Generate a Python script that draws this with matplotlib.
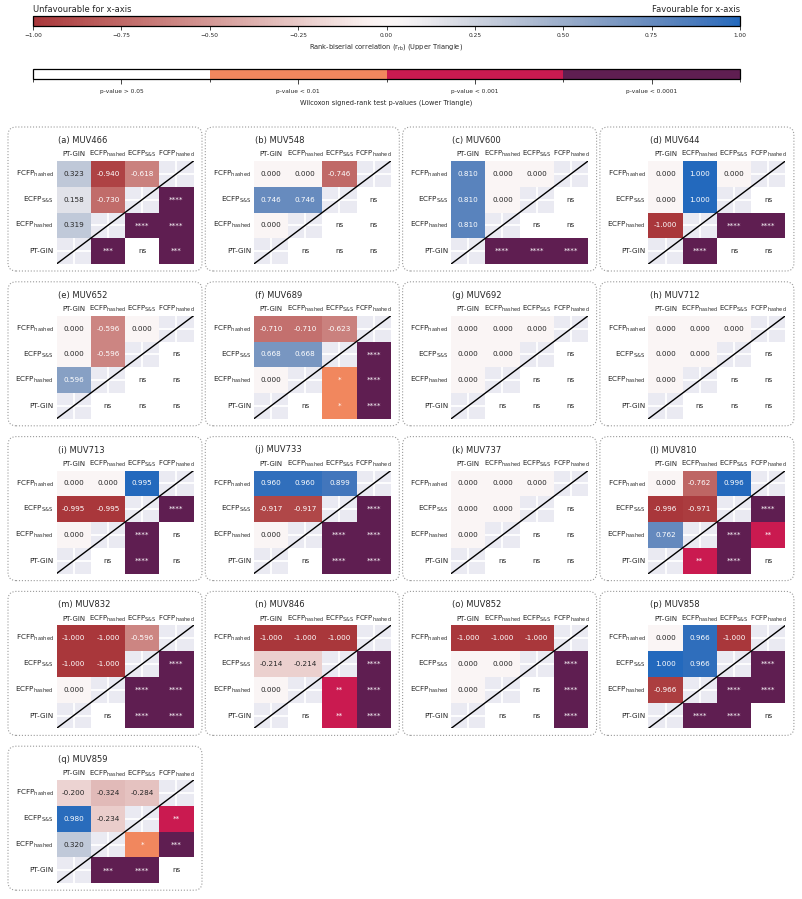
import numpy as np
import matplotlib
matplotlib.use('Agg')
import matplotlib.pyplot as plt
import seaborn as sns
from matplotlib.colors import ListedColormap, BoundaryNorm, Normalize
from matplotlib.cm import ScalarMappable
from matplotlib.patches import FancyBboxPatch

sns.set_style('darkgrid')
plt.rcParams['mathtext.default'] = 'regular'

# models on rows (top to bottom) and columns (left to right)
row_labels = [r'FCFP$_{hashed}$', r'ECFP$_{S&S}$', r'ECFP$_{hashed}$', 'PT-GIN']
col_labels = ['PT-GIN', r'ECFP$_{hashed}$', r'ECFP$_{S&S}$', r'FCFP$_{hashed}$']

targets = ['MUV466', 'MUV548', 'MUV600', 'MUV644', 'MUV652', 'MUV689', 'MUV692', 'MUV712',
           'MUV713', 'MUV733', 'MUV737', 'MUV810', 'MUV832', 'MUV846', 'MUV852', 'MUV858',
           'MUV859']

# upper triangle cells: (0,0) (0,1) (0,2) (1,0) (1,1) (2,0)
rrb = [
    [0.323, -0.940, -0.618, 0.158, -0.730, 0.319],
    [0.000, 0.000, -0.746, 0.746, 0.746, 0.000],
    [0.810, 0.000, 0.000, 0.810, 0.000, 0.810],
    [0.000, 1.000, 0.000, 0.000, 1.000, -1.000],
    [0.000, -0.596, 0.000, 0.000, -0.596, 0.596],
    [-0.710, -0.710, -0.623, 0.668, 0.668, 0.000],
    [0.000, 0.000, 0.000, 0.000, 0.000, 0.000],
    [0.000, 0.000, 0.000, 0.000, 0.000, 0.000],
    [0.000, 0.000, 0.995, -0.995, -0.995, 0.000],
    [0.960, 0.960, 0.899, -0.917, -0.917, 0.000],
    [0.000, 0.000, 0.000, 0.000, 0.000, 0.000],
    [0.000, -0.762, 0.996, -0.996, -0.971, 0.762],
    [-1.000, -1.000, -0.596, -1.000, -1.000, 0.000],
    [-1.000, -1.000, -1.000, -0.214, -0.214, 0.000],
    [-1.000, -1.000, -1.000, 0.000, 0.000, 0.000],
    [0.000, 0.966, -1.000, 1.000, 0.966, -0.966],
    [-0.200, -0.324, -0.284, 0.980, -0.234, 0.320],
]

# lower triangle cells: (1,3) (2,2) (2,3) (3,1) (3,2) (3,3)
pstars = [
    ['****', '****', '****', '***', 'ns', '***'],
    ['ns', 'ns', 'ns', 'ns', 'ns', 'ns'],
    ['ns', 'ns', 'ns', '****', '****', '****'],
    ['ns', '****', '****', '****', 'ns', 'ns'],
    ['ns', 'ns', 'ns', 'ns', 'ns', 'ns'],
    ['****', '*', '****', 'ns', '*', '****'],
    ['ns', 'ns', 'ns', 'ns', 'ns', 'ns'],
    ['ns', 'ns', 'ns', 'ns', 'ns', 'ns'],
    ['****', '****', 'ns', 'ns', '****', 'ns'],
    ['****', '****', '****', 'ns', '****', '****'],
    ['ns', 'ns', 'ns', 'ns', 'ns', 'ns'],
    ['****', '****', '**', '**', '****', 'ns'],
    ['****', '****', '****', 'ns', '****', '****'],
    ['****', '**', '****', 'ns', '**', '****'],
    ['****', 'ns', '****', 'ns', 'ns', '****'],
    ['****', '****', '****', '****', '****', 'ns'],
    ['**', '*', '***', '***', '****', 'ns'],
]

p_labels = ['p-value > 0.05', 'p-value < 0.01', 'p-value < 0.001', 'p-value < 0.0001']
p_colors = ['#FFFFFF', '#F1875E', '#CA1A50', '#5F1E51']
star_level = {'ns': 0, '*': 1, '**': 2, '***': 3, '****': 3}

upper_cells = [(0, 0), (0, 1), (0, 2), (1, 0), (1, 1), (2, 0)]
lower_cells = [(1, 3), (2, 2), (2, 3), (3, 1), (3, 2), (3, 3)]

W, H = 802, 899
fig = plt.figure(figsize=(W / 100, H / 100), dpi=100)
pcmap = ListedColormap(p_colors)
txt = '#262626'


def fr(x, y, w, h):
    # pixel box (top-left origin) -> figure fraction
    return [x / W, 1 - (y + h) / H, w / W, h / H]


# colour bars
cax1 = fig.add_axes(fr(33, 16, 707, 10))
cb1 = fig.colorbar(ScalarMappable(Normalize(-1, 1), cmap='vlag_r'), cax=cax1, orientation='horizontal')
ticks1 = np.linspace(-1, 1, 9)
cb1.set_ticks(ticks1)
cb1.set_ticklabels([f'{t:.2f}'.replace('-', '\u2212') for t in ticks1])
cb1.ax.tick_params(labelsize=4.2, length=3, width=0.6, pad=2, colors=txt)
cb1.set_label(r'Rank-biserial correlation (r$_{rb}$) (Upper Triangle)', fontsize=4.8, labelpad=3, color=txt)
cb1.outline.set_edgecolor('black')
cb1.outline.set_linewidth(0.9)
cax1.grid(False)
cax1.text(0, 1.6, 'Unfavourable for x-axis', transform=cax1.transAxes, ha='left', va='center',
          fontsize=6, color=txt)
cax1.text(1, 1.6, 'Favourable for x-axis', transform=cax1.transAxes, ha='right', va='center',
          fontsize=6, color=txt)

cax2 = fig.add_axes(fr(33, 69, 707, 10))
cb2 = fig.colorbar(ScalarMappable(BoundaryNorm([0, 1, 2, 3, 4], 4), cmap=pcmap), cax=cax2,
                   orientation='horizontal')
cb2.set_ticks([0.5, 1.5, 2.5, 3.5])
cb2.set_ticklabels(p_labels)
cb2.ax.tick_params(labelsize=4.2, length=3.4, width=0.6, pad=3.5, colors=txt)
cb2.set_label('Wilcoxon signed-rank test p-values (Lower Triangle)', fontsize=4.8, labelpad=4, color=txt)
cb2.outline.set_edgecolor('black')
cb2.outline.set_linewidth(0.9)
cax2.grid(False)

# panels
for k, name in enumerate(targets):
    r, c = divmod(k, 4)
    box_left = 8 + 197.3 * c
    hm_left = box_left + 48.5
    hm_top = 161 + 154.8 * r
    ax = fig.add_axes(fr(hm_left, hm_top, 137, 103))

    R = np.full((4, 4), np.nan)
    for (i, j), v in zip(upper_cells, rrb[k]):
        R[i, j] = v
    P = np.full((4, 4), np.nan)
    A = np.full((4, 4), '', dtype=object)
    for (i, j), s in zip(lower_cells, pstars[k]):
        P[i, j] = star_level[s]
        A[i, j] = s

    sns.heatmap(R, cmap='vlag_r', vmin=-1, vmax=1, annot=True, fmt='.3f',
                annot_kws={'size': 5.2}, cbar=False, ax=ax,
                xticklabels=col_labels, yticklabels=row_labels)
    sns.heatmap(P, cmap=pcmap, vmin=-0.5, vmax=3.5, annot=A, fmt='',
                annot_kws={'size': 5.2}, cbar=False, ax=ax,
                xticklabels=col_labels, yticklabels=row_labels)
    ax.plot([0, 4], [4, 0], color='black', lw=1)
    ax.set_xlim(0, 4)
    ax.set_ylim(4, 0)
    ax.grid(True, color='white', lw=1.3)
    ax.xaxis.tick_top()
    ax.tick_params(axis='x', labelsize=5, pad=3.5, length=0, colors=txt)
    ax.tick_params(axis='y', labelsize=5.2, pad=2, length=0, colors=txt)
    plt.setp(ax.get_xticklabels(), rotation=0, va='baseline')
    plt.setp(ax.get_yticklabels(), rotation=0)
    ax.text(0.01, 1.2, f'({chr(97 + k)}) {name}', transform=ax.transAxes, ha='left', va='center',
            fontsize=6, color=txt)

    box_top = hm_top - 34
    box_bottom = hm_top + 103 + 7
    box = FancyBboxPatch((box_left / 100, (H - box_bottom) / 100), 194 / 100, (box_bottom - box_top) / 100,
                         boxstyle='round,pad=0,rounding_size=0.08', transform=fig.dpi_scale_trans,
                         fill=False, ls=':', lw=0.8, ec='#9a9a9a')
    fig.add_artist(box)

fig.savefig('out.png', dpi=100)
